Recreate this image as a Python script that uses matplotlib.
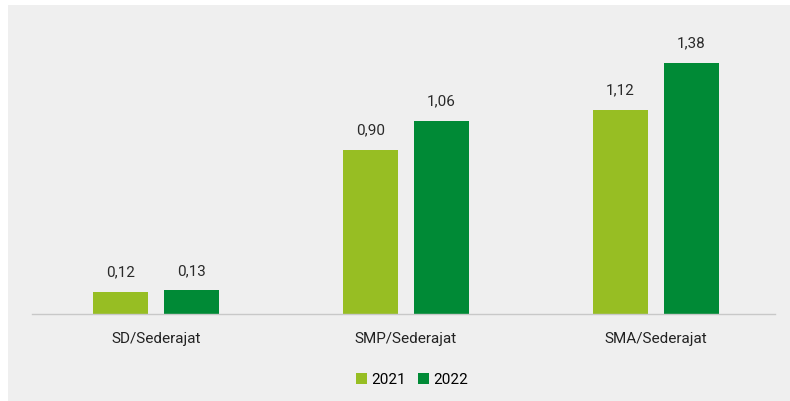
import matplotlib
matplotlib.use('agg')
from matplotlib import pyplot as plt
from matplotlib.patches import Rectangle
import numpy as np

categories = ['SD/Sederajat', 'SMP/Sederajat', 'SMA/Sederajat']
years = ['2021', '2022']
values_2021 = [0.12, 0.90, 1.12]
values_2022 = [0.13, 1.06, 1.38]

colors = ['#97be23', '#008a36']
bg = '#efefef'

plt.rcParams['font.family'] = ['Roboto', 'DejaVu Sans']

W, H = 790, 401
fig = plt.figure(figsize=(W / 100, H / 100), dpi=100, facecolor=bg)
# white strips at top and left edge of the scan
fig.patches.append(Rectangle((0, (H - 5) / H), 1, 5 / H, transform=fig.transFigure,
                             facecolor='white', edgecolor='none', zorder=-1))
fig.patches.append(Rectangle((0, 0), 8 / W, 1, transform=fig.transFigure,
                             facecolor='white', edgecolor='none', zorder=-1))

ax = fig.add_axes([32 / W, (H - 314) / H, (775 - 32) / W, (314 - 20) / H])
ax.set_facecolor('none')

x = np.arange(len(categories))
w = 0.22
off = 0.142
for vals, c, dx, yr in [(values_2021, colors[0], -off, years[0]),
                        (values_2022, colors[1], off, years[1])]:
    bars = ax.bar(x + dx, vals, w, color=c, label=yr)
    for b, v in zip(bars, vals):
        ax.annotate(('%.2f' % v).replace('.', ','),
                    (b.get_x() + b.get_width() / 2, v),
                    xytext=(0, 9), textcoords='offset points',
                    ha='center', va='bottom', fontsize=11, color='#2a2a2a')

ax.set_xlim(-0.496, 2.476)
ax.set_ylim(0, 294 / 182)
ax.set_yticks([])
ax.set_xticks(x)
ax.set_xticklabels(categories, fontsize=11, color='#222222')
ax.tick_params(axis='x', length=0, pad=13)
for s in ['top', 'right', 'left']:
    ax.spines[s].set_visible(False)
ax.spines['bottom'].set_color('#c8c8c8')
ax.spines['bottom'].set_linewidth(1)

fig.legend(loc='center', bbox_to_anchor=(412 / W, (H - 380) / H), ncol=2,
           frameon=False, fontsize=11, handlelength=0.7, handleheight=0.7,
           handletextpad=0.3, columnspacing=0.8)

plt.savefig('out.png', dpi=100, facecolor=fig.get_facecolor())
